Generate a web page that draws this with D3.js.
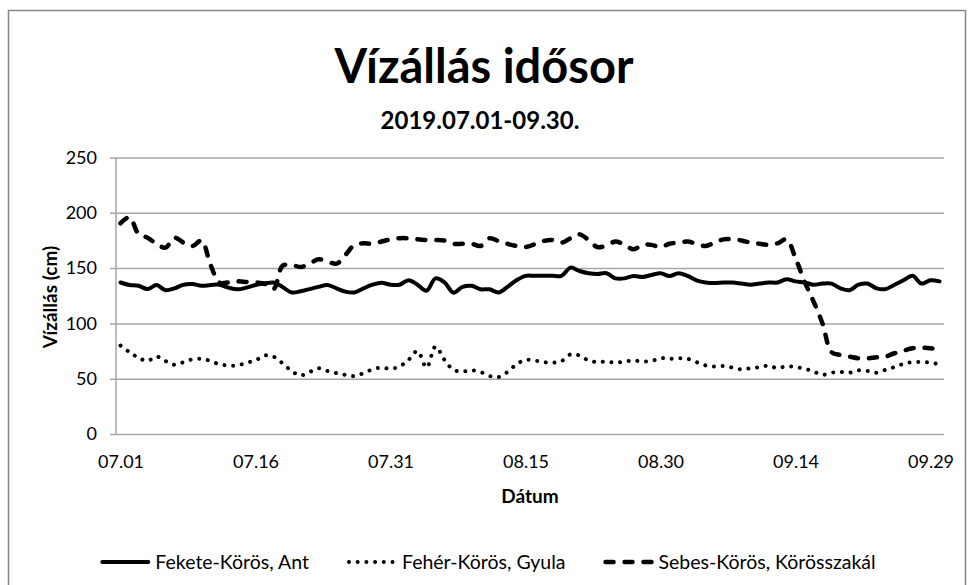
<!DOCTYPE html>
<html>
<head>
<meta charset="utf-8">
<script src="https://cdn.jsdelivr.net/npm/d3@7"></script>
<style>
  body { margin: 0; background: #fff; }
  svg { display: block; font-family: Lato, "Noto Sans", sans-serif; }
</style>
</head>
<body>
<script>
(function(){

    // tick labels shown on the date axis (every 15th day)
    var xTickLabels = ["07.01", "07.16", "07.31", "08.15", "08.30", "09.14", "09.29"];
    var yTicks = [0, 50, 100, 150, 200, 250];

    // daily water levels, 2019.07.01 - 09.30 (cm)
    var feketeAnt = [
        137, 134.7, 134, 131, 134.7, 130, 131.7, 135, 135.6, 134,
        134.7, 135, 132.3, 130.8, 132.3, 134.7, 136, 137, 133, 128,
        129, 131, 133, 134.7, 131.7, 128.7, 128, 131.7, 135, 136.8,
        135, 135, 139, 135, 129.6, 140.7, 137, 127.8, 133, 134,
        130.8, 130.8, 128, 133, 139, 143, 143, 143, 143, 143,
        150.4, 147.4, 145.4, 144.7, 145.4, 140.7, 140.7, 142.9, 142, 143.8,
        145.4, 142.9, 145.4, 142.9, 139, 137, 136.5, 137, 137, 136,
        135, 136, 137, 137, 140, 138, 137, 135, 136, 136,
        131.7, 130, 135, 136, 131.7, 131, 135, 139, 143, 136,
        139, 138
    ];
    var feherGyula = [
        80, 74, 69, 66, 70, 66, 62.5, 65, 67.5, 68,
        66, 63, 62, 62, 64.5, 66.5, 71, 70, 64, 57,
        53, 56, 59.5, 57, 55, 53.5, 52.4, 55, 58.5, 60,
        59, 61, 67, 75, 60, 79, 67, 58, 56.5, 57.5,
        56, 52.5, 51.5, 56, 63, 67, 66.5, 65, 64.5, 66,
        72, 71, 66.5, 65, 65.5, 64.5, 65.5, 66.5, 65.5, 66,
        68.6, 68, 68.5, 68, 65, 62, 61, 61.5, 60, 58.5,
        59.5, 60.3, 61.8, 59.5, 61.3, 60.5, 59, 56.5, 53.5, 55.5,
        56, 55.5, 57.5, 57, 55.5, 58, 60.5, 63.5, 65, 65,
        64.5, 63
    ];
    var sebesKorosszakal = [
        190.5, 196, 181, 177.5, 172, 168.5, 177.5, 173, 170, 175,
        153, 137, 137, 138, 137.5, 137, 136, 131, 152, 153,
        151, 154, 158, 156, 154, 162, 171, 172.4, 172, 174,
        176, 177, 177, 176, 175.4, 175.4, 175, 172, 172, 172,
        170, 177, 174.5, 172, 170, 169, 171.5, 174.5, 175.4, 173,
        177, 180.5, 175.4, 169, 170.5, 174, 171, 167, 171, 171,
        169, 172, 173, 174, 172, 170, 173, 176, 176, 175,
        173, 172, 171, 172.4, 176, 159, 138, 120, 100, 74,
        71.4, 70, 68.4, 68.4, 69.3, 70, 73, 75.3, 77.5, 78,
        77.5, 76.5
    ];
    var seriesNames = ["Fekete-Körös, Ant", "Fehér-Körös, Gyula", "Sebes-Körös, Körösszakál"];

    var width = 972,
        height = 585;

    var svg = d3.select("body")
        .append("svg")
        .attr("width", width)
        .attr("height", height);

    // chart frame
    svg.append("rect")
        .attr("x", 8.5).attr("y", 10.5)
        .attr("width", 957).attr("height", 600)
        .attr("fill", "#fff")
        .attr("stroke", "#868686")
        .attr("stroke-width", 1.5);

    var plot = {left: 116, right: 944, top: 157.5, bottom: 434};

    var x = d3.scaleLinear()
        .domain([-0.5, feketeAnt.length - 0.5])
        .range([plot.left, plot.right]);

    var y = d3.scaleLinear()
        .domain([0, 250])
        .range([plot.bottom, plot.top]);

    // gridlines + y ticks
    var yAxis = d3.axisLeft(y)
        .tickValues(yTicks)
        .tickSize(-(plot.right - plot.left))
        .tickPadding(19)
        .tickFormat(d3.format("d"));

    var gy = svg.append("g")
        .attr("transform", "translate(" + plot.left + ",0)")
        .call(yAxis);
    gy.select(".domain").remove();
    gy.selectAll(".tick line")
        .attr("x1", -6)
        .attr("stroke", "#a6a6a6")
        .attr("stroke-width", 1.5);
    gy.selectAll(".tick text")
        .attr("font-size", 18)
        .attr("fill", "#000")
        .style("font-family", "Lato, sans-serif");

    // y axis line
    svg.append("line")
        .attr("x1", plot.left).attr("x2", plot.left)
        .attr("y1", plot.top).attr("y2", plot.bottom)
        .attr("stroke", "#a6a6a6")
        .attr("stroke-width", 1.5);

    // x axis labels
    var xAxis = d3.axisBottom(x)
        .tickValues(xTickLabels.map(function(d, i){ return i * 15; }))
        .tickSize(0)
        .tickPadding(21)
        .tickFormat(function(d, i){ return xTickLabels[i]; });

    var gx = svg.append("g")
        .attr("transform", "translate(0," + plot.bottom + ")")
        .call(xAxis);
    gx.select(".domain").remove();
    gx.selectAll(".tick text")
        .attr("font-size", 18)
        .attr("fill", "#000")
        .style("font-family", "Lato, sans-serif");

    // titles
    svg.append("text")
        .attr("x", 484).attr("y", 83)
        .attr("text-anchor", "middle")
        .attr("font-size", 47)
        .attr("font-weight", "bold")
        .text("Vízállás idősor");

    svg.append("text")
        .attr("x", 480).attr("y", 129)
        .attr("text-anchor", "middle")
        .attr("font-size", 24)
        .attr("font-weight", "bold")
        .text("2019.07.01-09.30.");

    svg.append("text")
        .attr("transform", "translate(57,297) rotate(-90)")
        .attr("text-anchor", "middle")
        .attr("font-size", 19)
        .attr("font-weight", "bold")
        .text("Vízállás (cm)");

    svg.append("text")
        .attr("x", 530).attr("y", 503)
        .attr("text-anchor", "middle")
        .attr("font-size", 19)
        .attr("font-weight", "bold")
        .text("Dátum");

    // line styles per series
    var styles = [
        {width: 4, dash: null, cap: "round"},
        {width: 4, dash: "0.01 8.7", cap: "round"},
        {width: 4.5, dash: "8 11", cap: "round"}
    ];

    var line = d3.line()
        .x(function(d, i){ return x(i); })
        .y(function(d){ return y(d); })
        .curve(d3.curveCatmullRom.alpha(0.5));

    [feketeAnt, feherGyula, sebesKorosszakal].forEach(function(data, k){
        svg.append("path")
            .datum(data)
            .attr("d", line)
            .attr("fill", "none")
            .attr("stroke", "#000")
            .attr("stroke-width", styles[k].width)
            .attr("stroke-dasharray", styles[k].dash)
            .attr("stroke-linecap", styles[k].cap)
            .attr("stroke-linejoin", "round");
    });

    // legend, laid out from measured text widths and centred on the chart
    var legend = svg.append("g");
    var symW = 50, symGap = 5, itemGap = 38, legY = 562;
    var items = seriesNames.map(function(name, k){
        var t = legend.append("text")
            .attr("font-size", 19.5)
            .attr("dy", "0.35em")
            .attr("y", legY)
            .text(name);
        return {text: t, w: t.node().getComputedTextLength(), k: k};
    });
    var total = d3.sum(items, function(d){ return symW + symGap + d.w; }) + itemGap * (items.length - 1);
    var cx = 488 - total / 2;
    items.forEach(function(it){
        var st = styles[it.k];
        legend.append("line")
            .attr("x1", cx + 2).attr("x2", cx + symW - 2)
            .attr("y1", legY).attr("y2", legY)
            .attr("stroke", "#000")
            .attr("stroke-width", st.width)
            .attr("stroke-dasharray", st.dash)
            .attr("stroke-linecap", st.cap);
        it.text.attr("x", cx + symW + symGap);
        cx += symW + symGap + it.w + itemGap;
    });

})();
</script>
</body>
</html>
